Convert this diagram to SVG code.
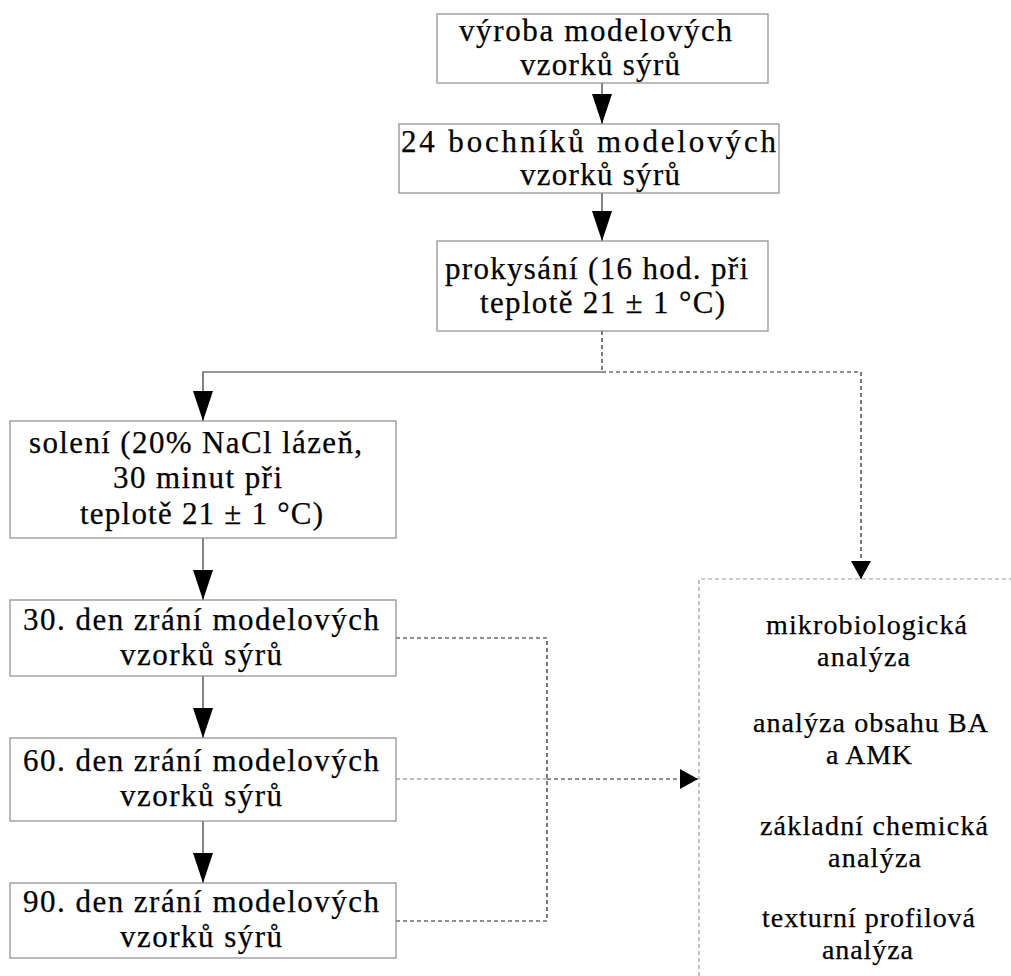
<svg xmlns="http://www.w3.org/2000/svg" width="1011" height="976" viewBox="0 0 1011 976">
  <style>
    .box { fill: #ffffff; stroke: #8c8c8c; stroke-width: 1.2; }
    text { font-family: "Liberation Serif", "Times New Roman", serif; font-size: 31px; fill: #000000; stroke: #000000; stroke-width: 0.25px; }
    .side { font-size: 28px; }
    .solid { fill: none; stroke: #333333; stroke-width: 1.2; }
    .dash { fill: none; stroke: #222222; stroke-width: 1.2; stroke-dasharray: 4 3; }
    .dash-light { fill: none; stroke: #777777; stroke-width: 1.2; stroke-dasharray: 4 3; }
    .frame { fill: none; stroke: #9a9a9a; stroke-width: 1.2; stroke-dasharray: 4 3; }
  </style>
  <defs>
    <marker id="head" viewBox="0 0 30 20" markerWidth="30" markerHeight="20" refX="30" refY="10" orient="auto" markerUnits="userSpaceOnUse">
      <path d="M0,0 L30,10 L0,20 Z" fill="#000000"/>
    </marker>
    <marker id="headSmall" viewBox="0 0 18 20" markerWidth="18" markerHeight="20" refX="18" refY="10" orient="auto" markerUnits="userSpaceOnUse">
      <path d="M0,0 L18,10 L0,20 Z" fill="#000000"/>
    </marker>
  </defs>

  <rect width="1011" height="976" fill="#ffffff"/>

  <!-- connectors -->
  <g id="connectors">
    <path class="solid" d="M602,83 V124" marker-end="url(#head)"/>
    <path class="solid" d="M602,193 V241" marker-end="url(#head)"/>
    <path class="dash" d="M602,331 V372"/>
    <path class="solid" d="M602,372 H203 V421" marker-end="url(#head)"/>
    <path class="dash" d="M602,372 H861 V579" marker-end="url(#headSmall)"/>
    <path class="solid" d="M203,538 V600" marker-end="url(#head)"/>
    <path class="solid" d="M203,676 V738" marker-end="url(#head)"/>
    <path class="solid" d="M203,821 V883" marker-end="url(#head)"/>
    <path class="dash" d="M396,638 H547 V921 H396"/>
    <path class="dash-light" d="M396,779 H547"/>
    <path class="dash" d="M547,779 H698" marker-end="url(#headSmall)"/>
  </g>

  <g id="n-vyroba">
    <rect class="box" x="437" y="14" width="331" height="69"/>
    <text x="459" y="41" textLength="273" lengthAdjust="spacing">výroba modelových</text>
    <text x="520" y="75" textLength="160" lengthAdjust="spacing">vzorků sýrů</text>
  </g>

  <g id="n-bochniky">
    <rect class="box" x="399" y="124" width="380" height="69"/>
    <text x="401" y="152" textLength="375" lengthAdjust="spacing">24 bochníků modelových</text>
    <text x="520" y="185" textLength="160" lengthAdjust="spacing">vzorků sýrů</text>
  </g>

  <g id="n-prokysani">
    <rect class="box" x="437" y="241" width="331" height="90"/>
    <text x="445" y="279" textLength="303" lengthAdjust="spacing">prokysání (16 hod. při</text>
    <text x="480" y="313" textLength="245" lengthAdjust="spacing">teplotě 21 ± 1 °C)</text>
  </g>

  <g id="n-soleni">
    <rect class="box" x="10" y="421" width="386" height="117"/>
    <text x="29" y="453" textLength="333" lengthAdjust="spacing">solení (20% NaCl lázeň,</text>
    <text x="113" y="488" textLength="169" lengthAdjust="spacing">30 minut při</text>
    <text x="80" y="524" textLength="243" lengthAdjust="spacing">teplotě 21 ± 1 °C)</text>
  </g>

  <g id="n-den30">
    <rect class="box" x="10" y="600" width="386" height="76"/>
    <text x="23" y="630" textLength="356" lengthAdjust="spacing">30. den zrání modelových</text>
    <text x="120" y="665" textLength="162" lengthAdjust="spacing">vzorků sýrů</text>
  </g>

  <g id="n-den60">
    <rect class="box" x="10" y="738" width="386" height="83"/>
    <text x="23" y="771" textLength="356" lengthAdjust="spacing">60. den zrání modelových</text>
    <text x="120" y="806" textLength="162" lengthAdjust="spacing">vzorků sýrů</text>
  </g>

  <g id="n-den90">
    <rect class="box" x="10" y="883" width="386" height="75"/>
    <text x="23" y="912" textLength="356" lengthAdjust="spacing">90. den zrání modelových</text>
    <text x="120" y="947" textLength="162" lengthAdjust="spacing">vzorků sýrů</text>
  </g>

  <g id="n-analyzy">
    <path class="frame" d="M699,976 V579 H1011"/>
    <text class="side" x="766" y="634" textLength="201" lengthAdjust="spacing">mikrobiologická</text>
    <text class="side" x="817" y="666" textLength="93" lengthAdjust="spacing">analýza</text>
    <text class="side" x="753" y="732" textLength="235" lengthAdjust="spacing">analýza obsahu BA</text>
    <text class="side" x="826" y="764" textLength="86" lengthAdjust="spacing">a AMK</text>
    <text class="side" x="760" y="835" textLength="228" lengthAdjust="spacing">základní chemická</text>
    <text class="side" x="828" y="867" textLength="93" lengthAdjust="spacing">analýza</text>
    <text class="side" x="762" y="927" textLength="213" lengthAdjust="spacing">texturní profilová</text>
    <text class="side" x="822" y="959" textLength="91" lengthAdjust="spacing">analýza</text>
  </g>
</svg>
